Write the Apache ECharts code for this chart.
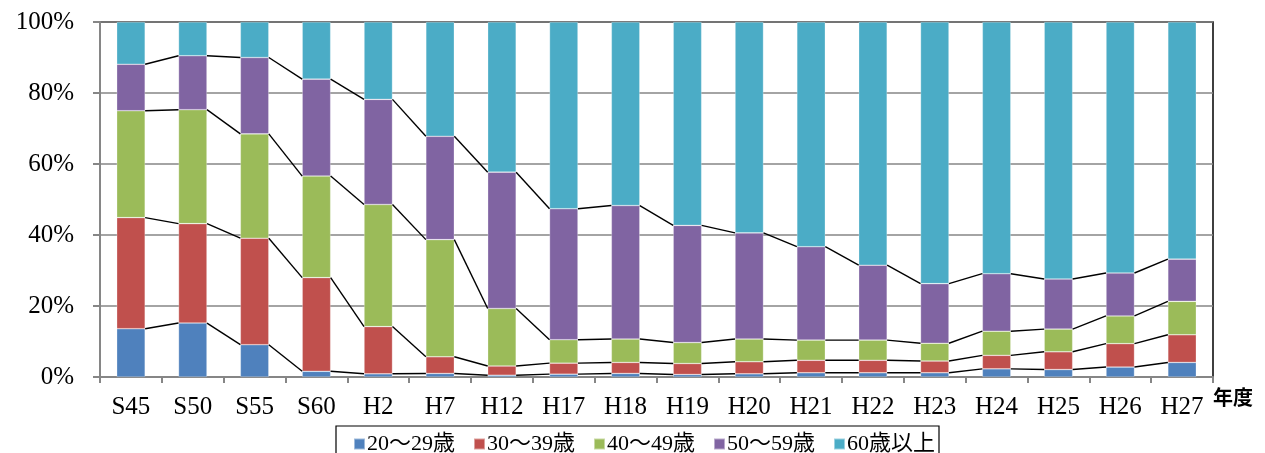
<!DOCTYPE html>
<html>
<head>
<meta charset="utf-8">
<script src="https://cdn.jsdelivr.net/npm/echarts@6/dist/echarts.min.js"></script>
<style>html,body{margin:0;padding:0;background:#fff}#c{width:1265px;height:453px}</style>
</head>
<body>
<div id="c"></div>
<script>
const categories = ['S45','S50','S55','S60','H2','H7','H12','H17','H18','H19','H20','H21','H22','H23','H24','H25','H26','H27'];
const seriesNames = ['20～29歳','30～39歳','40～49歳','50～59歳','60歳以上'];
const age20s = [13.6,15.2,9.1,1.6,0.9,1.0,0.5,0.8,1.0,0.7,0.9,1.2,1.2,1.2,2.3,2.1,2.8,4.1];
const age30s = [31.3,28.0,30.0,26.4,13.3,4.7,2.6,3.1,3.1,3.1,3.4,3.5,3.5,3.3,3.8,5.0,6.6,7.8];
const age40s = [30.1,32.1,29.4,28.6,34.4,33.0,16.2,6.6,6.6,5.9,6.4,5.7,5.7,5.0,6.8,6.4,7.8,9.4];
const age50s = [13.1,15.2,21.5,27.3,29.6,29.1,38.4,36.9,37.6,33.0,29.9,26.3,21.1,16.8,16.2,14.1,12.1,11.9];
const age60p = [11.9,9.5,10.0,16.1,21.8,32.2,42.3,52.6,51.7,57.3,59.4,63.3,68.5,73.7,70.9,72.4,70.7,66.8];
const yTicks = [0,20,40,60,80,100];

const colors = ['#4F81BD','#C0504D','#9BBB59','#8064A2','#4BACC6'];
const groups = [age20s, age30s, age40s, age50s, age60p];
const BAR_FRAC = 0.46;
const serif = "'Liberation Serif','DejaVu Serif','Noto Sans CJK JP',serif";

// cumulative tops (derived from the series arrays)
const cum = [];
let run = categories.map(() => 0);
groups.forEach((g, k) => {
  run = run.map((v, i) => v + g[i]);
  cum.push(run.slice());
});

const series = groups.map((g, k) => ({
  name: seriesNames[k],
  type: 'bar',
  stack: 'total',
  barWidth: (BAR_FRAC * 100) + '%',
  data: g,
  itemStyle: { color: colors[k], borderColor: 'rgba(255,255,255,0.45)', borderWidth: 0.6 },
  z: 2
}));

// Excel-style series lines between stacked segment tops
for (let k = 0; k < 4; k++) {
  const d = [];
  for (let i = 0; i < categories.length - 1; i++) d.push([i, cum[k][i], cum[k][i + 1]]);
  series.push({
    type: 'custom',
    name: 'line' + k,
    silent: true,
    z: 5,
    encode: { x: 0, y: [1, 2] },
    data: d,
    renderItem: function (params, api) {
      const i = api.value(0);
      const a = api.coord([i, api.value(1)]);
      const b = api.coord([i + 1, api.value(2)]);
      const half = api.size([1, 0])[0] * BAR_FRAC / 2;
      return {
        type: 'line',
        shape: { x1: a[0] + half, y1: a[1], x2: b[0] - half, y2: b[1] },
        style: { stroke: '#000', lineWidth: 1.4 }
      };
    }
  });
}

const chart = echarts.init(document.getElementById('c'), null, { renderer: 'canvas' });
chart.setOption({
  animation: false,
  grid: { left: 100, top: 22, width: 1113, height: 355, show: true, borderColor: '#000', borderWidth: 1.5, backgroundColor: 'transparent' },
  legend: {
    data: seriesNames,
    left: 336, top: 426,
    padding: [7, 4, 10, 17],
    itemWidth: 11, itemHeight: 11, itemGap: 18,
    icon: 'rect',
    borderColor: '#000', borderWidth: 1.2,
    textStyle: { fontFamily: serif, fontSize: 22, color: '#000', padding: [0,0,0,-3] }
  },
  xAxis: {
    type: 'category',
    data: categories,
    name: '年度',
    nameLocation: 'end',
    nameGap: 0,
    nameTextStyle: { fontFamily: "'Noto Sans CJK JP',sans-serif", fontWeight: 'bold', fontSize: 20, color: '#000', verticalAlign: 'top', align: 'left', padding: [10, 0, 0, 0] },
    axisLine: { lineStyle: { color: '#868686', width: 2 } },
    axisTick: { show: true, length: 6, alignWithLabel: false, lineStyle: { color: '#868686', width: 2 } },
    axisLabel: { fontFamily: serif, fontSize: 25, color: '#000', margin: 18 }
  },
  yAxis: {
    type: 'value',
    min: yTicks[0], max: yTicks[yTicks.length - 1], interval: 20,
    axisLine: { show: true, lineStyle: { color: '#868686', width: 2 } },
    axisTick: { show: true, length: 7, lineStyle: { color: '#868686', width: 2 } },
    splitLine: { lineStyle: { color: '#868686', width: 1.5 } },
    axisLabel: { fontFamily: serif, fontSize: 25, color: '#000', margin: 26, formatter: '{value}%' }
  },
  series: series
});
</script>
</body>
</html>
